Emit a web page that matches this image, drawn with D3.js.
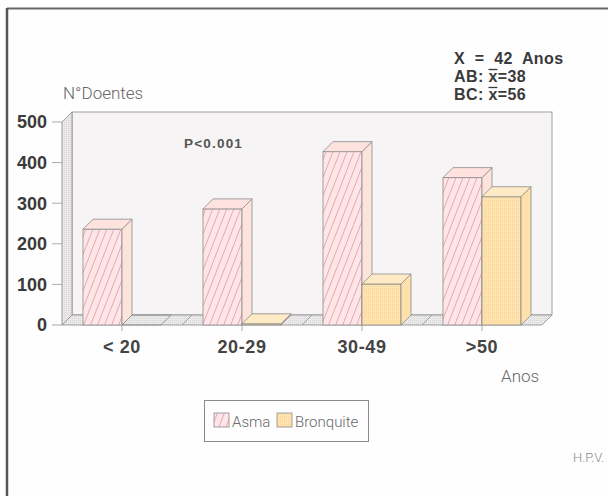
<!DOCTYPE html>
<html>
<head>
<meta charset="utf-8">
<script src="https://cdn.jsdelivr.net/npm/d3@7/dist/d3.min.js"></script>
<style>
  html, body { margin: 0; padding: 0; background: #fefefe; }
  svg { display: block; }
  .light { font-family: Roboto, "Liberation Sans", Arial, sans-serif; font-weight: 300; }
  .bold { font-family: "Liberation Sans", Arial, sans-serif; font-weight: 700; }
</style>
</head>
<body>
<svg id="chart" width="608" height="496"></svg>
<script>
// Patients by age group, asthma vs. chronic bronchitis
const categories = ["< 20", "20-29", "30-49", ">50"];
const seriesNames = ["Asma", "Bronquite"];
const asma = [236, 286, 427, 363];
const bronquite = [0, 3, 101, 316];
const yTicks = [0, 100, 200, 300, 400, 500];
const statLines = [
  { pre: "X  =  42  Anos", bar: false, post: "" },
  { pre: "AB: ", bar: true, post: "=38" },
  { pre: "BC: ", bar: true, post: "=56" }
];

const svg = d3.select("#chart");
const DX = 10, DY = 10;           // depth offset of the 3D box
const x = d3.scaleBand().domain(categories).range([62, 542]);
const xs = d3.scaleBand().domain(seriesNames).range([0, 78]);
const y = d3.scaleLinear().domain([0, 500]).range([325, 122]);
const pad = (x.bandwidth() - xs.range()[1]) / 2;

const defs = svg.append("defs");
// diagonal hatch for Asma
const hatch = defs.append("pattern").attr("id", "hatch")
  .attr("patternUnits", "userSpaceOnUse").attr("width", 7).attr("height", 18);
hatch.append("rect").attr("width", 7).attr("height", 18).attr("fill", "#fde6e8");
hatch.append("line").attr("x1", 0).attr("y1", 18).attr("x2", 7).attr("y2", 0)
  .attr("stroke", "#e893a6").attr("stroke-width", 0.8);
hatch.append("line").attr("x1", -1).attr("y1", 2.57).attr("x2", 1).attr("y2", -2.57)
  .attr("stroke", "#e893a6").attr("stroke-width", 0.8);
hatch.append("line").attr("x1", 6).attr("y1", 20.57).attr("x2", 8).attr("y2", 15.43)
  .attr("stroke", "#e893a6").attr("stroke-width", 0.8);
// fine dot screen for Bronquite
const dots = defs.append("pattern").attr("id", "dots")
  .attr("patternUnits", "userSpaceOnUse").attr("width", 2).attr("height", 2);
dots.append("rect").attr("width", 2).attr("height", 2).attr("fill", "#fee4b2");
dots.append("rect").attr("width", 1).attr("height", 1).attr("fill", "#fbd590");
// grey screen for walls
const grey = defs.append("pattern").attr("id", "grey")
  .attr("patternUnits", "userSpaceOnUse").attr("width", 2).attr("height", 2);
grey.append("rect").attr("width", 2).attr("height", 2).attr("fill", "#ebe9e9");
grey.append("rect").attr("width", 1).attr("height", 1).attr("fill", "#d8d6d6");

// page frame (top and left edges)
svg.append("line").attr("x1", 7).attr("y1", 8.5).attr("x2", 608).attr("y2", 8.5)
  .attr("stroke", "#666").attr("stroke-width", 2);
svg.append("line").attr("x1", 7).attr("y1", 8).attr("x2", 7).attr("y2", 496)
  .attr("stroke", "#555").attr("stroke-width", 2.5);

const x0 = x.range()[0], x1 = x.range()[1];
const yb = y(0), yt = y(500);
const pts = a => a.map(p => p.join(",")).join(" ");
const edge = "#8c8c8c";

// back wall
svg.append("rect").attr("x", x0 + DX).attr("y", yt - DY)
  .attr("width", x1 - x0).attr("height", yb - yt)
  .attr("fill", "#f6f4f4").attr("stroke", edge).attr("stroke-width", 0.8);
// left wall
svg.append("polygon")
  .attr("points", pts([[x0, yb], [x0, yt], [x0 + DX, yt - DY], [x0 + DX, yb - DY]]))
  .attr("fill", "url(#grey)").attr("stroke", edge).attr("stroke-width", 0.8);
// floor
svg.append("polygon")
  .attr("points", pts([[x0, yb], [x1, yb], [x1 + DX, yb - DY], [x0 + DX, yb - DY]]))
  .attr("fill", "url(#grey)").attr("stroke", edge).attr("stroke-width", 0.8);
// floor dividers between age groups
svg.append("g").selectAll("line").data(categories.slice(1)).join("line")
  .attr("x1", d => x(d)).attr("y1", yb).attr("x2", d => x(d) + DX).attr("y2", yb - DY)
  .attr("stroke", edge).attr("stroke-width", 0.8);

// y axis ticks and labels
const yAxis = svg.append("g");
yAxis.selectAll("line").data(yTicks).join("line")
  .attr("x1", 52).attr("x2", x0).attr("y1", d => y(d)).attr("y2", d => y(d))
  .attr("stroke", "#a9aab0").attr("stroke-width", 1);
yAxis.selectAll("text").data(yTicks).join("text")
  .attr("class", "bold").attr("x", 47).attr("y", d => y(d)).attr("dy", "0.36em")
  .attr("text-anchor", "end").attr("font-size", 18).attr("fill", "#3a3a3a")
  .text(d => d);

// category ticks and labels
const xAxis = svg.append("g");
xAxis.selectAll("line").data(categories).join("line")
  .attr("x1", d => x(d) + x.bandwidth() / 2).attr("x2", d => x(d) + x.bandwidth() / 2)
  .attr("y1", yb).attr("y2", yb + 6).attr("stroke", "#b0b0b0");
xAxis.selectAll("text").data(categories).join("text")
  .attr("class", "bold").attr("x", d => x(d) + x.bandwidth() / 2).attr("y", 353)
  .attr("text-anchor", "middle").attr("font-size", 18).attr("fill", "#444")
  .attr("letter-spacing", 0.6)
  .text(d => d);

// bars
const styles = {
  Asma: { front: "url(#hatch)", side: "#fde4da", top: "#fde2dd" },
  Bronquite: { front: "url(#dots)", side: "#fde0aa", top: "#feeac4" }
};
const bars = [];
categories.forEach((c, i) => {
  bars.push({ cat: c, series: "Asma", value: asma[i] });
  bars.push({ cat: c, series: "Bronquite", value: bronquite[i] });
});
const bw = xs.bandwidth();
const barG = svg.append("g").selectAll("g").data(bars).join("g");
barG.each(function (d) {
  const g = d3.select(this);
  const bx = x(d.cat) + pad + xs(d.series);
  const by = y(d.value);
  const st = styles[d.series];
  if (d.value > 0) {
    g.append("rect").attr("x", bx).attr("y", by).attr("width", bw).attr("height", yb - by)
      .attr("fill", st.front).attr("stroke", edge).attr("stroke-width", 0.8);
    g.append("polygon")
      .attr("points", pts([[bx + bw, yb], [bx + bw, by], [bx + bw + DX, by - DY], [bx + bw + DX, yb - DY]]))
      .attr("fill", st.side).attr("stroke", edge).attr("stroke-width", 0.8);
  }
  g.append("polygon")
    .attr("points", pts([[bx, by], [bx + bw, by], [bx + bw + DX, by - DY], [bx + DX, by - DY]]))
    .attr("fill", d.value > 0 ? st.top : "none").attr("stroke", edge).attr("stroke-width", 0.8);
});

// titles and notes
svg.append("text").attr("class", "light").attr("x", 63).attr("y", 99)
  .attr("font-size", 17).attr("fill", "#666").text("N°Doentes");
svg.append("text").attr("class", "light").attr("x", 501).attr("y", 382)
  .attr("font-size", 17).attr("fill", "#666").text("Anos");
svg.append("text").attr("class", "bold").attr("x", 184).attr("y", 148)
  .attr("font-size", 13.5).attr("letter-spacing", 1.2).attr("fill", "#555").text("P<0.001");
svg.append("text").attr("class", "light").attr("x", 573).attr("y", 462)
  .attr("font-size", 13).attr("fill", "#8a8a8a").text("H.P.V.");

// summary statistics with barred x for the mean
statLines.forEach((s, i) => {
  const by = 64 + i * 18;
  const t = svg.append("text").attr("class", "bold").attr("x", 454).attr("y", by)
    .attr("font-size", 16).attr("letter-spacing", 0.4).attr("fill", "#3a3a3a")
    .attr("xml:space", "preserve");
  t.append("tspan").text(s.pre);
  if (s.bar) {
    const xt = t.append("tspan").text("x");
    t.append("tspan").text(s.post);
    const start = t.node().getStartPositionOfChar(s.pre.length).x;
    const w = xt.node().getComputedTextLength();
    svg.append("line").attr("x1", start).attr("x2", start + w - 0.4)
      .attr("y1", by - 12.5).attr("y2", by - 12.5).attr("stroke", "#3a3a3a").attr("stroke-width", 1.3);
  }
});

// legend
const legend = svg.append("g");
legend.append("rect").attr("x", 204.5).attr("y", 400.5).attr("width", 164).attr("height", 41)
  .attr("fill", "#fefefe").attr("stroke", "#8a8a8a");
const legX = [214, 277];
seriesNames.forEach((n, i) => {
  legend.append("rect").attr("x", legX[i]).attr("y", 413).attr("width", 15).attr("height", 14)
    .attr("fill", styles[n].front).attr("stroke", edge).attr("stroke-width", 0.8);
  legend.append("text").attr("class", "light").attr("x", legX[i] + 18).attr("y", 427)
    .attr("font-size", 15).attr("fill", "#6a6a6a").text(n);
});
</script>
</body>
</html>
